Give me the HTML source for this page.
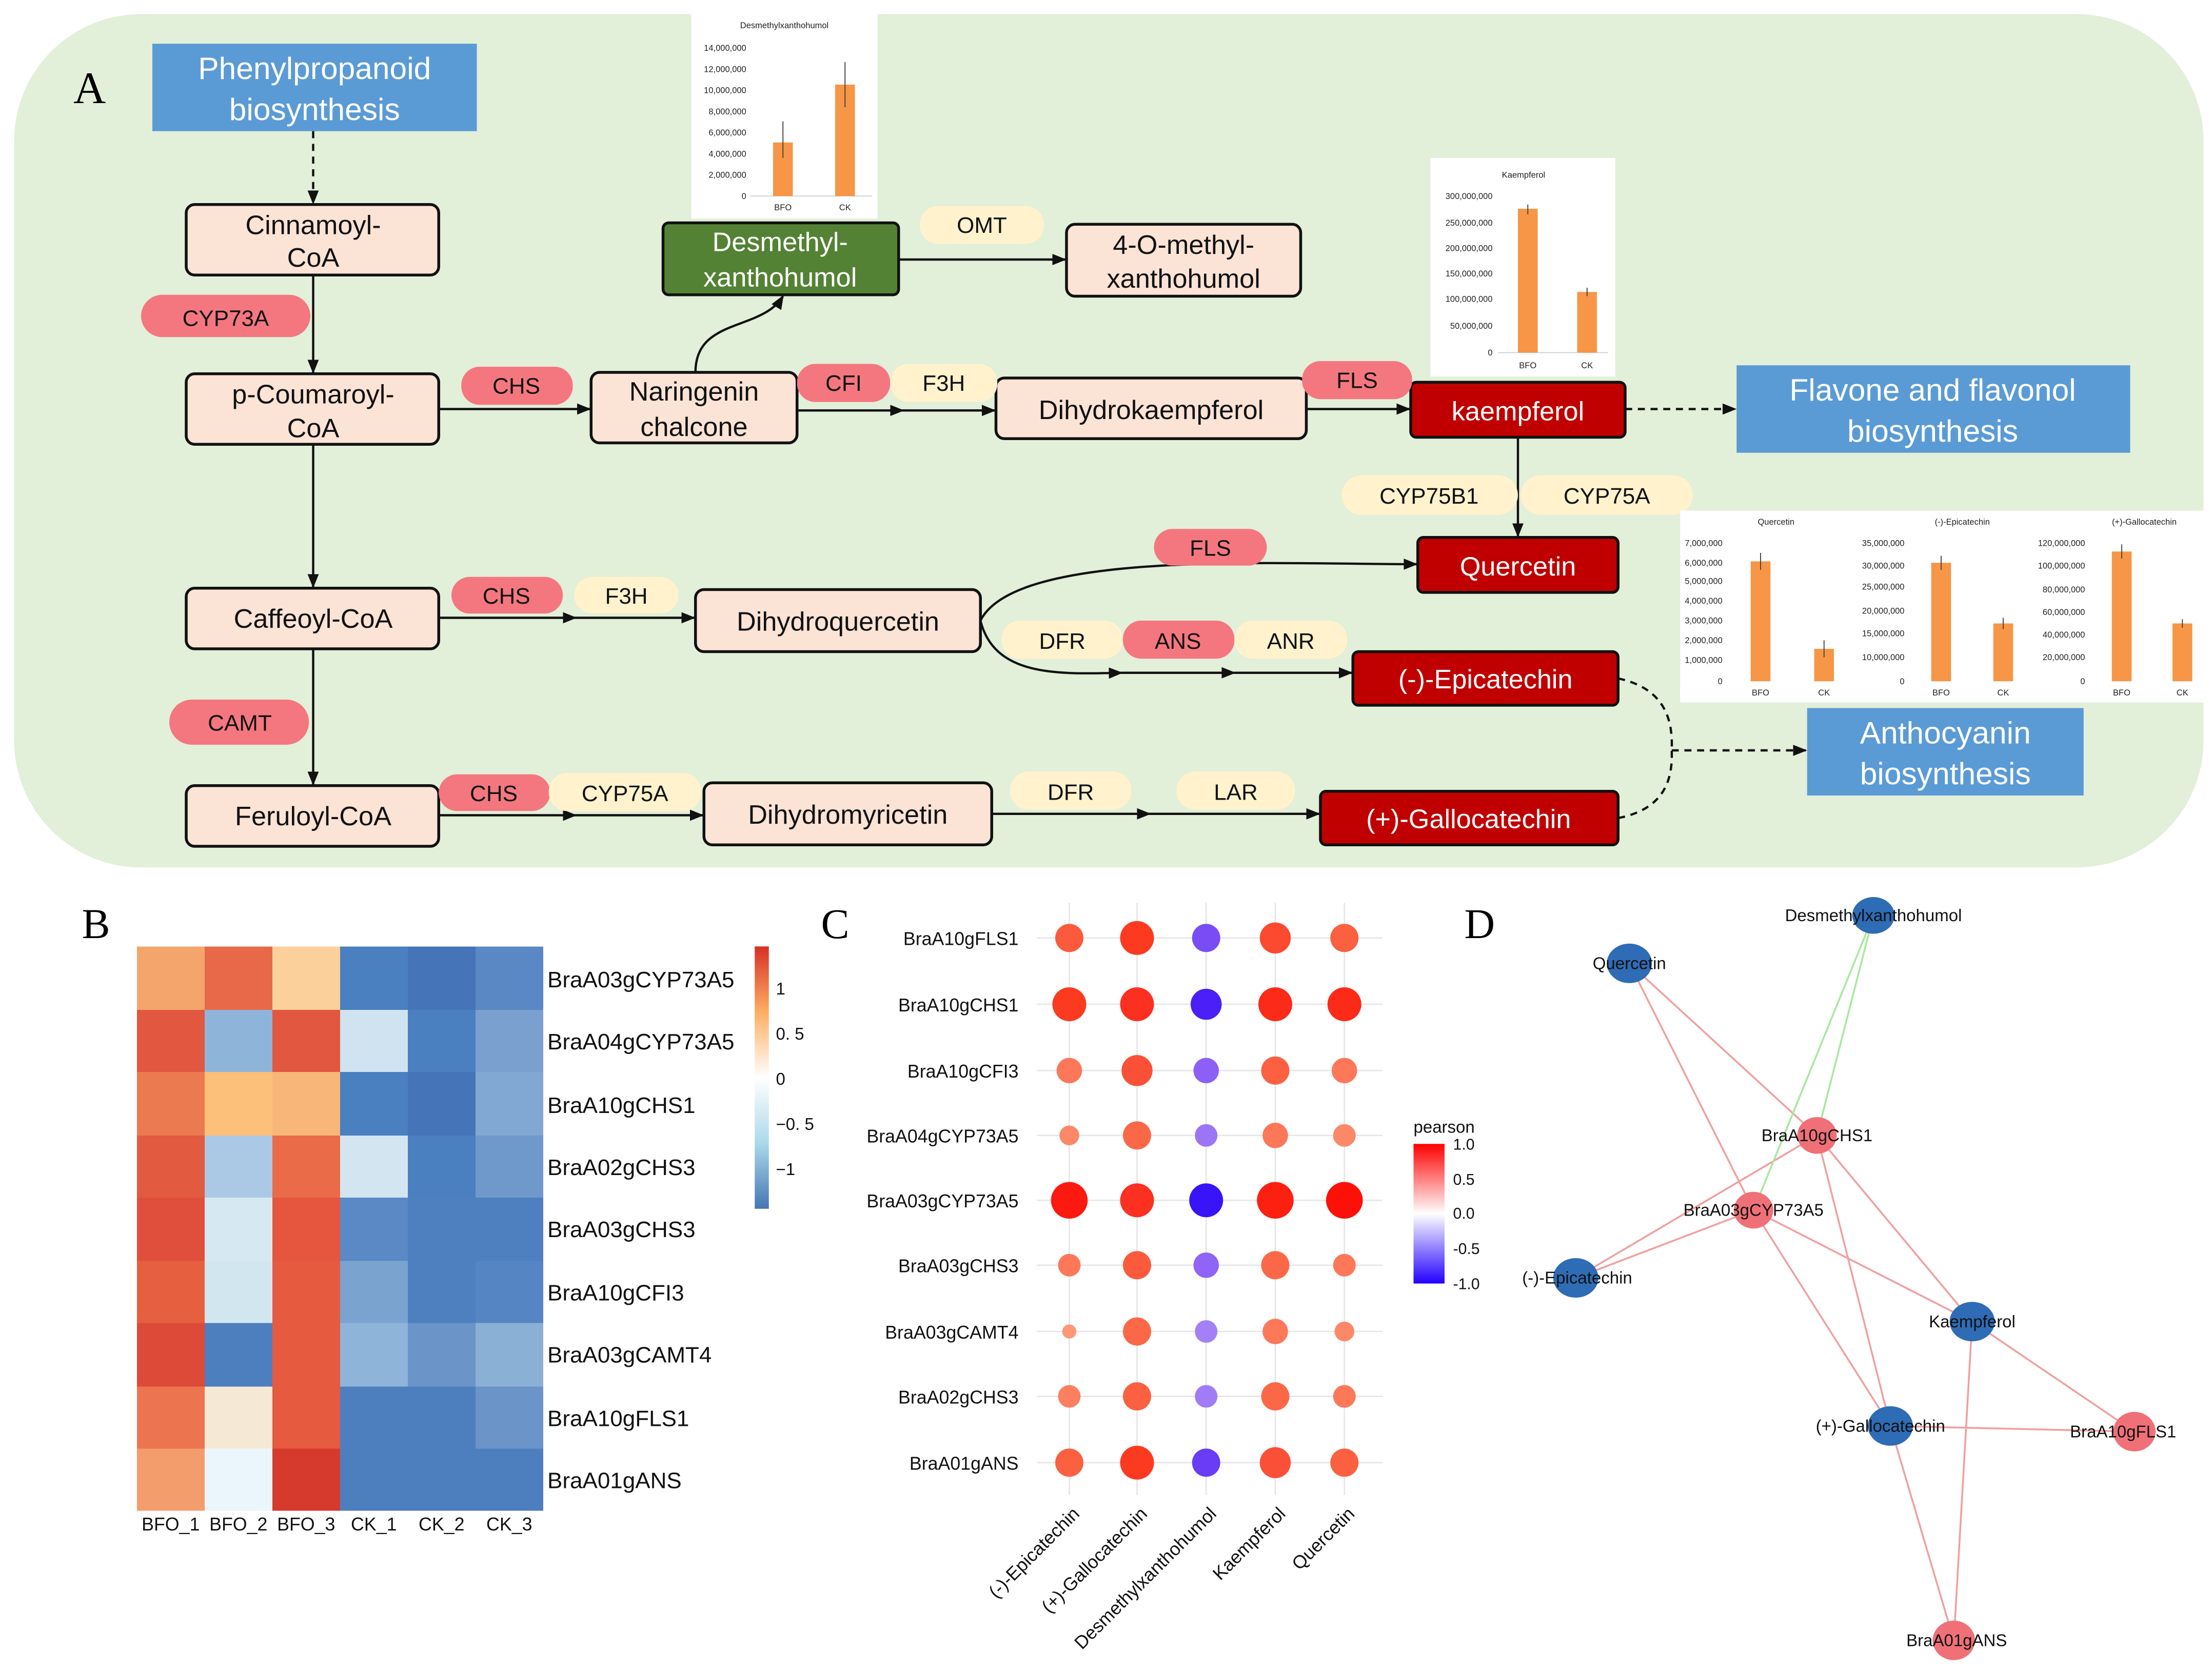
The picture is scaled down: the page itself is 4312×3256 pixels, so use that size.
<!DOCTYPE html>
<html><head><meta charset="utf-8"><style>
html,body{margin:0;padding:0;background:#fff}
svg{display:block}
text{font-family:"Liberation Sans",Arial,sans-serif}
.nd{fill:#fbe3d5;stroke:#111;stroke-width:2}
.nt{font-size:19px;text-anchor:middle;fill:#111}
.rn{fill:#c00000;stroke:#111;stroke-width:2}
.rt{font-size:19px;text-anchor:middle;fill:#fff}
.pr{fill:#f4777f}
.py{fill:#fff2cc}
.pt{font-size:16px;text-anchor:middle;fill:#111}
.ar{stroke:#111;stroke-width:1.6;fill:none;marker-end:url(#ah)}
.ds{stroke:#111;stroke-width:1.6;fill:none;stroke-dasharray:5,4;marker-end:url(#ah)}
.dn{stroke:#111;stroke-width:1.6;fill:none;stroke-dasharray:5,4}
.bl{fill:#5b9bd5}
.bt{font-size:22px;text-anchor:middle;fill:#fff}
.st{font-size:6px;fill:#222}
.hl{font-size:16px;fill:#111}
.cl{font-size:13px;fill:#111}
.e1{stroke:#f0a0a0;stroke-width:1.3}
.e2{stroke:#a8e8a0;stroke-width:1.3}
.nl{font-size:12px;fill:#111}
</style></head><body>
<svg width="4312" height="3256" viewBox="0 0 1568 1184" xmlns="http://www.w3.org/2000/svg">
<defs><marker id="ah" markerWidth="10" markerHeight="8" refX="9" refY="4" orient="auto" markerUnits="userSpaceOnUse"><path d="M0,0 L10,4 L0,8 z" fill="#111"/></marker>
<linearGradient id="hg" x1="0" y1="0" x2="0" y2="1"><stop offset="0" stop-color="#d73027"/><stop offset="0.25" stop-color="#fdae61"/><stop offset="0.5" stop-color="#ffffff"/><stop offset="0.75" stop-color="#abd9e9"/><stop offset="1" stop-color="#4575b4"/></linearGradient>
<linearGradient id="pg" x1="0" y1="0" x2="0" y2="1"><stop offset="0" stop-color="#ff0000"/><stop offset="0.5" stop-color="#ffffff"/><stop offset="1" stop-color="#2200ff"/></linearGradient>
</defs>
<rect x="0" y="0" width="1568" height="1184" fill="#fff"/>
<rect x="10" y="10" width="1552" height="605" rx="90" fill="#e2efd9"/>
<text x="52" y="73" font-size="32" style="font-family:'Liberation Serif',serif">A</text>

<rect class="bl" x="108" y="31" width="230" height="62"/><text class="bt" x="223" y="56">Phenylpropanoid</text><text class="bt" x="223" y="85">biosynthesis</text>
<rect class="bl" x="1231" y="259" width="279" height="62"/><text class="bt" x="1370" y="284">Flavone and flavonol</text><text class="bt" x="1370" y="313">biosynthesis</text>
<rect class="bl" x="1281" y="502" width="196" height="62"/><text class="bt" x="1379" y="527">Anthocyanin</text><text class="bt" x="1379" y="556">biosynthesis</text>

<path class="ds" d="M222,93 V144"/>
<path class="ar" d="M222,195 V264"/>
<path class="ar" d="M222,315 V416"/>
<path class="ar" d="M222,460 V556"/>
<path class="ar" d="M311,290 H418"/>
<path class="ar" d="M493,264 C493,225 540,235 555,210"/>
<path class="ar" d="M637,184 H755"/>
<path class="ar" d="M565,291 H640"/><path class="ar" d="M640,291 H705"/>
<path class="ar" d="M926,290 H999"/>
<path class="ds" d="M1152,290 H1230"/>
<path class="ar" d="M1076,310 V380"/>
<path class="ar" d="M311,438 H408"/><path class="ar" d="M408,438 H492"/>
<path class="ar" d="M695,440 C720,390 900,400 1004,400"/>
<path class="ar" d="M695,440 C705,480 750,478 795,477"/><path class="ar" d="M795,477 H875"/><path class="ar" d="M875,477 H958"/>
<path class="ar" d="M311,578 H408"/><path class="ar" d="M408,578 H498"/>
<path class="ar" d="M703,577 H815"/><path class="ar" d="M815,577 H935"/>
<path class="dn" d="M1147,481 C1180,488 1186,510 1185,532"/>
<path class="dn" d="M1147,580 C1178,574 1186,555 1185,532"/>
<path class="ds" d="M1185,532 H1280"/>

<rect class="nd" x="132" y="145" width="179" height="50" rx="6"/><text class="nt" x="222" y="166">Cinnamoyl-</text><text class="nt" x="222" y="189">CoA</text>
<rect class="nd" x="132" y="265" width="179" height="50" rx="6"/><text class="nt" x="222" y="286">p-Coumaroyl-</text><text class="nt" x="222" y="310">CoA</text>
<rect class="nd" x="132" y="417" width="179" height="43" rx="6"/><text class="nt" x="222" y="445">Caffeoyl-CoA</text>
<rect class="nd" x="132" y="557" width="179" height="43" rx="6"/><text class="nt" x="222" y="585">Feruloyl-CoA</text>
<rect class="nd" x="419" y="264" width="146" height="50" rx="6"/><text class="nt" x="492" y="284">Naringenin</text><text class="nt" x="492" y="309">chalcone</text>
<rect class="nd" x="706" y="268" width="220" height="43" rx="6"/><text class="nt" x="816" y="297">Dihydrokaempferol</text>
<rect class="nd" x="493" y="418" width="202" height="44" rx="6"/><text class="nt" x="594" y="447">Dihydroquercetin</text>
<rect class="nd" x="499" y="555" width="204" height="44" rx="6"/><text class="nt" x="601" y="584">Dihydromyricetin</text>
<rect class="nd" x="756" y="159" width="166" height="51" rx="6"/><text class="nt" x="839" y="180">4-O-methyl-</text><text class="nt" x="839" y="204">xanthohumol</text>
<rect x="470" y="158" width="167" height="51" rx="4" fill="#548235" stroke="#111" stroke-width="2"/><text class="rt" x="553" y="178">Desmethyl-</text><text class="rt" x="553" y="203">xanthohumol</text>
<rect class="rn" x="1000" y="271" width="152" height="39" rx="4"/><text class="rt" x="1076" y="298">kaempferol</text>
<rect class="rn" x="1005" y="381" width="142" height="39" rx="4"/><text class="rt" x="1076" y="408">Quercetin</text>
<rect class="rn" x="959" y="462" width="188" height="38" rx="4"/><text class="rt" x="1053" y="488">(-)-Epicatechin</text>
<rect class="rn" x="936" y="561" width="211" height="38" rx="4"/><text class="rt" x="1041" y="587">(+)-Gallocatechin</text>

<rect class="pr" x="100" y="209" width="120" height="30" rx="15"/><text class="pt" x="160" y="231" font-size="17">CYP73A</text>
<rect class="pr" x="327" y="260" width="79" height="27" rx="13"/><text class="pt" x="366" y="279">CHS</text>
<rect class="pr" x="565" y="258" width="66" height="27" rx="13"/><text class="pt" x="598" y="277">CFI</text>
<rect class="pr" x="923" y="256" width="78" height="27" rx="13"/><text class="pt" x="962" y="275">FLS</text>
<rect class="pr" x="818" y="375" width="80" height="26" rx="13"/><text class="pt" x="858" y="394">FLS</text>
<rect class="pr" x="320" y="409" width="79" height="26" rx="13"/><text class="pt" x="359" y="428">CHS</text>
<rect class="pr" x="796" y="440" width="79" height="27" rx="13"/><text class="pt" x="835" y="460">ANS</text>
<rect class="pr" x="120" y="496" width="99" height="32" rx="16"/><text class="pt" x="170" y="518" font-size="17">CAMT</text>
<rect class="pr" x="311" y="549" width="79" height="26" rx="13"/><text class="pt" x="350" y="568">CHS</text>
<rect class="py" x="652" y="146" width="88" height="27" rx="13"/><text class="pt" x="696" y="165">OMT</text>
<rect class="py" x="631" y="258" width="76" height="27" rx="13"/><text class="pt" x="669" y="277">F3H</text>
<rect class="py" x="951" y="337" width="125" height="28" rx="14"/><text class="pt" x="1013" y="357">CYP75B1</text>
<rect class="py" x="1078" y="337" width="122" height="28" rx="14"/><text class="pt" x="1139" y="357">CYP75A</text>
<rect class="py" x="407" y="409" width="74" height="26" rx="13"/><text class="pt" x="444" y="428">F3H</text>
<rect class="py" x="710" y="440" width="86" height="27" rx="13"/><text class="pt" x="753" y="460">DFR</text>
<rect class="py" x="875" y="440" width="80" height="27" rx="13"/><text class="pt" x="915" y="460">ANR</text>
<rect class="py" x="389" y="548" width="108" height="27" rx="13"/><text class="pt" x="443" y="568">CYP75A</text>
<rect class="py" x="716" y="547" width="86" height="27" rx="13"/><text class="pt" x="759" y="567">DFR</text>
<rect class="py" x="834" y="547" width="84" height="27" rx="13"/><text class="pt" x="876" y="567">LAR</text>

<g>
<rect x="490" y="10" width="132" height="145" fill="#fff"/>
<text class="st" x="556" y="20" text-anchor="middle" font-size="7">Desmethylxanthohumol</text>
<line x1="532" y1="139" x2="618" y2="139" stroke="#ccc" stroke-width="0.6"/>
<text class="st" x="529" y="36" text-anchor="end">14,000,000</text><text class="st" x="529" y="51" text-anchor="end">12,000,000</text><text class="st" x="529" y="66" text-anchor="end">10,000,000</text><text class="st" x="529" y="81" text-anchor="end">8,000,000</text><text class="st" x="529" y="96" text-anchor="end">6,000,000</text><text class="st" x="529" y="111" text-anchor="end">4,000,000</text><text class="st" x="529" y="126" text-anchor="end">2,000,000</text><text class="st" x="529" y="141" text-anchor="end">0</text>
<rect x="548" y="101" width="14" height="38" fill="#f79646"/><rect x="592" y="60" width="14" height="79" fill="#f79646"/>
<line x1="555" y1="86" x2="555" y2="112" stroke="#444" stroke-width="0.7"/><line x1="599" y1="44" x2="599" y2="76" stroke="#444" stroke-width="0.7"/>
<text class="st" x="555" y="149" text-anchor="middle">BFO</text><text class="st" x="599" y="149" text-anchor="middle">CK</text>
</g>
<g>
<rect x="1014" y="112" width="131" height="155" fill="#fff"/>
<text class="st" x="1080" y="126" text-anchor="middle" font-size="7">Kaempferol</text>
<line x1="1062" y1="250" x2="1140" y2="250" stroke="#ccc" stroke-width="0.6"/>
<text class="st" x="1058" y="141" text-anchor="end">300,000,000</text><text class="st" x="1058" y="160" text-anchor="end">250,000,000</text><text class="st" x="1058" y="178" text-anchor="end">200,000,000</text><text class="st" x="1058" y="196" text-anchor="end">150,000,000</text><text class="st" x="1058" y="214" text-anchor="end">100,000,000</text><text class="st" x="1058" y="233" text-anchor="end">50,000,000</text><text class="st" x="1058" y="252" text-anchor="end">0</text>
<rect x="1076" y="148" width="14" height="102" fill="#f79646"/><rect x="1118" y="207" width="14" height="43" fill="#f79646"/>
<line x1="1083" y1="145" x2="1083" y2="152" stroke="#444" stroke-width="0.7"/><line x1="1125" y1="204" x2="1125" y2="210" stroke="#444" stroke-width="0.7"/>
<text class="st" x="1083" y="261" text-anchor="middle">BFO</text><text class="st" x="1125" y="261" text-anchor="middle">CK</text>
</g>
<g>
<rect x="1191" y="362" width="371" height="136" fill="#fff"/>
<text class="st" x="1259" y="372" text-anchor="middle">Quercetin</text><text class="st" x="1391" y="372" text-anchor="middle">(-)-Epicatechin</text><text class="st" x="1520" y="372" text-anchor="middle">(+)-Gallocatechin</text>
<g text-anchor="end">
<text class="st" x="1221" y="387">7,000,000</text><text class="st" x="1221" y="401">6,000,000</text><text class="st" x="1221" y="414">5,000,000</text><text class="st" x="1221" y="428">4,000,000</text><text class="st" x="1221" y="442">3,000,000</text><text class="st" x="1221" y="456">2,000,000</text><text class="st" x="1221" y="470">1,000,000</text><text class="st" x="1221" y="485">0</text>
<text class="st" x="1350" y="387">35,000,000</text><text class="st" x="1350" y="403">30,000,000</text><text class="st" x="1350" y="418">25,000,000</text><text class="st" x="1350" y="435">20,000,000</text><text class="st" x="1350" y="451">15,000,000</text><text class="st" x="1350" y="468">10,000,000</text><text class="st" x="1350" y="485">0</text>
<text class="st" x="1478" y="387">120,000,000</text><text class="st" x="1478" y="403">100,000,000</text><text class="st" x="1478" y="420">80,000,000</text><text class="st" x="1478" y="436">60,000,000</text><text class="st" x="1478" y="452">40,000,000</text><text class="st" x="1478" y="468">20,000,000</text><text class="st" x="1478" y="485">0</text>
</g>
<rect x="1241" y="398" width="14" height="85" fill="#f79646"/><rect x="1286" y="460" width="14" height="23" fill="#f79646"/>
<rect x="1369" y="399" width="14" height="84" fill="#f79646"/><rect x="1413" y="442" width="14" height="41" fill="#f79646"/>
<rect x="1497" y="391" width="14" height="92" fill="#f79646"/><rect x="1540" y="442" width="14" height="41" fill="#f79646"/>
<g stroke="#444" stroke-width="0.7"><line x1="1248" y1="392" x2="1248" y2="404"/><line x1="1293" y1="454" x2="1293" y2="466"/><line x1="1376" y1="394" x2="1376" y2="404"/><line x1="1420" y1="438" x2="1420" y2="446"/><line x1="1504" y1="386" x2="1504" y2="396"/><line x1="1547" y1="439" x2="1547" y2="445"/></g>
<text class="st" x="1248" y="493" text-anchor="middle">BFO</text><text class="st" x="1293" y="493" text-anchor="middle">CK</text><text class="st" x="1376" y="493" text-anchor="middle">BFO</text><text class="st" x="1420" y="493" text-anchor="middle">CK</text><text class="st" x="1504" y="493" text-anchor="middle">BFO</text><text class="st" x="1547" y="493" text-anchor="middle">CK</text>
</g>

<text x="58" y="665" font-size="30" style="font-family:'Liberation Serif',serif">B</text>
<g shape-rendering="crispEdges">
<rect x="97" y="671" width="48" height="45" fill="#f4a56c"/><rect x="145" y="671" width="48" height="45" fill="#e8694a"/><rect x="193" y="671" width="48" height="45" fill="#fbd09a"/><rect x="241" y="671" width="48" height="45" fill="#4a7fc0"/><rect x="289" y="671" width="48" height="45" fill="#4574b8"/><rect x="337" y="671" width="48" height="45" fill="#5a88c4"/>
<rect x="97" y="716" width="48" height="44" fill="#e2573f"/><rect x="145" y="716" width="48" height="44" fill="#8fb4da"/><rect x="193" y="716" width="48" height="44" fill="#e2573f"/><rect x="241" y="716" width="48" height="44" fill="#cfe4f0"/><rect x="289" y="716" width="48" height="44" fill="#4a7fc0"/><rect x="337" y="716" width="48" height="44" fill="#7aa0cf"/>
<rect x="97" y="760" width="48" height="45" fill="#ec7a50"/><rect x="145" y="760" width="48" height="45" fill="#fcc07a"/><rect x="193" y="760" width="48" height="45" fill="#f8b679"/><rect x="241" y="760" width="48" height="45" fill="#4a7fc0"/><rect x="289" y="760" width="48" height="45" fill="#4574b8"/><rect x="337" y="760" width="48" height="45" fill="#80a8d2"/>
<rect x="97" y="805" width="48" height="44" fill="#e25a40"/><rect x="145" y="805" width="48" height="44" fill="#abc9e4"/><rect x="193" y="805" width="48" height="44" fill="#ea6b48"/><rect x="241" y="805" width="48" height="44" fill="#d2e5f0"/><rect x="289" y="805" width="48" height="44" fill="#4a7fc0"/><rect x="337" y="805" width="48" height="44" fill="#6f98cb"/>
<rect x="97" y="849" width="48" height="45" fill="#e04f3c"/><rect x="145" y="849" width="48" height="45" fill="#d6e9f3"/><rect x="193" y="849" width="48" height="45" fill="#e6553e"/><rect x="241" y="849" width="48" height="45" fill="#5a89c5"/><rect x="289" y="849" width="48" height="45" fill="#4e80bf"/><rect x="337" y="849" width="48" height="45" fill="#4e80bf"/>
<rect x="97" y="894" width="48" height="44" fill="#e6603f"/><rect x="145" y="894" width="48" height="44" fill="#d2e6f0"/><rect x="193" y="894" width="48" height="44" fill="#e65a40"/><rect x="241" y="894" width="48" height="44" fill="#7aa3cf"/><rect x="289" y="894" width="48" height="44" fill="#4e7fbe"/><rect x="337" y="894" width="48" height="44" fill="#5585c2"/>
<rect x="97" y="938" width="48" height="45" fill="#dd4a38"/><rect x="145" y="938" width="48" height="45" fill="#4d7fbe"/><rect x="193" y="938" width="48" height="45" fill="#e65a40"/><rect x="241" y="938" width="48" height="45" fill="#8fb4da"/><rect x="289" y="938" width="48" height="45" fill="#6b94c8"/><rect x="337" y="938" width="48" height="45" fill="#8ab0d6"/>
<rect x="97" y="983" width="48" height="44" fill="#ec7550"/><rect x="145" y="983" width="48" height="44" fill="#f5e9d6"/><rect x="193" y="983" width="48" height="44" fill="#e65a40"/><rect x="241" y="983" width="48" height="44" fill="#4d7fbe"/><rect x="289" y="983" width="48" height="44" fill="#4d7fbe"/><rect x="337" y="983" width="48" height="44" fill="#6b94c8"/>
<rect x="97" y="1027" width="48" height="44" fill="#f49d6c"/><rect x="145" y="1027" width="48" height="44" fill="#eaf6fb"/><rect x="193" y="1027" width="48" height="44" fill="#d63a2c"/><rect x="241" y="1027" width="48" height="44" fill="#4d7fbe"/><rect x="289" y="1027" width="48" height="44" fill="#4d7fbe"/><rect x="337" y="1027" width="48" height="44" fill="#4d7fbe"/>
</g>
<g class="hl">
<text x="388" y="700">BraA03gCYP73A5</text><text x="388" y="744">BraA04gCYP73A5</text><text x="388" y="789">BraA10gCHS1</text><text x="388" y="833">BraA02gCHS3</text><text x="388" y="877">BraA03gCHS3</text><text x="388" y="922">BraA10gCFI3</text><text x="388" y="966">BraA03gCAMT4</text><text x="388" y="1011">BraA10gFLS1</text><text x="388" y="1055">BraA01gANS</text>
</g>
<g font-size="13" text-anchor="middle" fill="#111">
<text x="121" y="1085">BFO_1</text><text x="169" y="1085">BFO_2</text><text x="217" y="1085">BFO_3</text><text x="265" y="1085">CK_1</text><text x="313" y="1085">CK_2</text><text x="361" y="1085">CK_3</text>
</g>
<rect x="535" y="671" width="10" height="186" fill="url(#hg)"/>
<g font-size="12" fill="#111" style="font-family:'Liberation Serif',serif"><text x="550" y="705">1</text><text x="550" y="737">0. 5</text><text x="550" y="769">0</text><text x="550" y="801">−0. 5</text><text x="550" y="833">−1</text></g>

<text x="582" y="665" font-size="30" style="font-family:'Liberation Serif',serif">C</text>
<g stroke="#e6e6e6" stroke-width="1">
<line x1="758" y1="640" x2="758" y2="1060"/><line x1="806" y1="640" x2="806" y2="1060"/><line x1="855" y1="640" x2="855" y2="1060"/><line x1="904" y1="640" x2="904" y2="1060"/><line x1="953" y1="640" x2="953" y2="1060"/>
<line x1="735" y1="665" x2="980" y2="665"/><line x1="735" y1="712" x2="980" y2="712"/><line x1="735" y1="759" x2="980" y2="759"/><line x1="735" y1="805" x2="980" y2="805"/><line x1="735" y1="851" x2="980" y2="851"/><line x1="735" y1="897" x2="980" y2="897"/><line x1="735" y1="944" x2="980" y2="944"/><line x1="735" y1="990" x2="980" y2="990"/><line x1="735" y1="1037" x2="980" y2="1037"/>
</g>
<g class="cl" text-anchor="end">
<text x="722" y="670">BraA10gFLS1</text><text x="722" y="717">BraA10gCHS1</text><text x="722" y="764">BraA10gCFI3</text><text x="722" y="810">BraA04gCYP73A5</text><text x="722" y="856">BraA03gCYP73A5</text><text x="722" y="902">BraA03gCHS3</text><text x="722" y="949">BraA03gCAMT4</text><text x="722" y="995">BraA02gCHS3</text><text x="722" y="1042">BraA01gANS</text>
</g>
<g>
<circle cx="758" cy="665" r="10" fill="#fb5a3c"/><circle cx="806" cy="665" r="12" fill="#fc3a20"/><circle cx="855" cy="665" r="10" fill="#7a4cf6"/><circle cx="904" cy="665" r="11" fill="#fb4a30"/><circle cx="953" cy="665" r="10" fill="#fb6040"/>
<circle cx="758" cy="712" r="12" fill="#fc3a20"/><circle cx="806" cy="712" r="12" fill="#fc3020"/><circle cx="855" cy="712" r="11" fill="#4a1ff8"/><circle cx="904" cy="712" r="12" fill="#fc2a18"/><circle cx="953" cy="712" r="12" fill="#fc2a18"/>
<circle cx="758" cy="759" r="9" fill="#fc7858"/><circle cx="806" cy="759" r="11" fill="#fb5038"/><circle cx="855" cy="759" r="9" fill="#8c60f6"/><circle cx="904" cy="759" r="10" fill="#fb6040"/><circle cx="953" cy="759" r="9" fill="#fc7858"/>
<circle cx="758" cy="805" r="7" fill="#fc8868"/><circle cx="806" cy="805" r="10" fill="#fb6848"/><circle cx="855" cy="805" r="8" fill="#9c74f6"/><circle cx="904" cy="805" r="9" fill="#fc7858"/><circle cx="953" cy="805" r="8" fill="#fc8868"/>
<circle cx="758" cy="851" r="13" fill="#fc1a10"/><circle cx="806" cy="851" r="12" fill="#fc3020"/><circle cx="855" cy="851" r="12" fill="#3a14f8"/><circle cx="904" cy="851" r="13" fill="#fc2010"/><circle cx="953" cy="851" r="13" fill="#fc1008"/>
<circle cx="758" cy="897" r="8" fill="#fc7858"/><circle cx="806" cy="897" r="10" fill="#fb5a3c"/><circle cx="855" cy="897" r="9" fill="#9064f6"/><circle cx="904" cy="897" r="10" fill="#fb6848"/><circle cx="953" cy="897" r="8" fill="#fc7858"/>
<circle cx="758" cy="944" r="5" fill="#fc9878"/><circle cx="806" cy="944" r="10" fill="#fb6848"/><circle cx="855" cy="944" r="8" fill="#a480f6"/><circle cx="904" cy="944" r="9" fill="#fc7858"/><circle cx="953" cy="944" r="7" fill="#fc8868"/>
<circle cx="758" cy="990" r="8" fill="#fc8060"/><circle cx="806" cy="990" r="10" fill="#fb6040"/><circle cx="855" cy="990" r="8" fill="#a07cf6"/><circle cx="904" cy="990" r="10" fill="#fb6848"/><circle cx="953" cy="990" r="8" fill="#fc7858"/>
<circle cx="758" cy="1037" r="10" fill="#fb6040"/><circle cx="806" cy="1037" r="12" fill="#fc3a20"/><circle cx="855" cy="1037" r="10" fill="#6a3cf6"/><circle cx="904" cy="1037" r="11" fill="#fb5038"/><circle cx="953" cy="1037" r="10" fill="#fb6040"/>
</g>
<g class="cl" text-anchor="end">
<text transform="translate(766,1074) rotate(-45)">(-)-Epicatechin</text><text transform="translate(814,1074) rotate(-45)">(+)-Gallocatechin</text><text transform="translate(863,1074) rotate(-45)">Desmethylxanthohumol</text><text transform="translate(912,1074) rotate(-45)">Kaempferol</text><text transform="translate(961,1074) rotate(-45)">Quercetin</text>
</g>
<text x="1002" y="803" font-size="12" fill="#111">pearson</text>
<rect x="1002" y="811" width="22" height="99" fill="url(#pg)"/>
<g font-size="11" fill="#111"><text x="1030" y="815">1.0</text><text x="1030" y="840">0.5</text><text x="1030" y="864">0.0</text><text x="1030" y="889">-0.5</text><text x="1030" y="914">-1.0</text></g>

<text x="1038" y="665" font-size="30" style="font-family:'Liberation Serif',serif">D</text>
<g>
<line class="e1" x1="1155" y1="683" x2="1288" y2="805"/><line class="e1" x1="1155" y1="683" x2="1243" y2="858"/>
<line class="e1" x1="1117" y1="906" x2="1288" y2="805"/><line class="e1" x1="1117" y1="906" x2="1243" y2="858"/>
<line class="e1" x1="1398" y1="937" x2="1288" y2="805"/><line class="e1" x1="1398" y1="937" x2="1243" y2="858"/>
<line class="e1" x1="1340" y1="1011" x2="1288" y2="805"/><line class="e1" x1="1340" y1="1011" x2="1243" y2="858"/>
<line class="e1" x1="1340" y1="1011" x2="1513" y2="1015"/><line class="e1" x1="1398" y1="937" x2="1513" y2="1015"/>
<line class="e1" x1="1398" y1="937" x2="1385" y2="1163"/><line class="e1" x1="1340" y1="1011" x2="1385" y2="1163"/>
<line class="e2" x1="1328" y1="649" x2="1288" y2="805"/><line class="e2" x1="1328" y1="649" x2="1243" y2="858"/>
</g>
<g fill="#2e6cb5">
<ellipse cx="1328" cy="649" rx="15" ry="13"/><ellipse cx="1155" cy="683" rx="16" ry="14"/><ellipse cx="1117" cy="906" rx="16" ry="14"/><ellipse cx="1398" cy="937" rx="16" ry="14"/><ellipse cx="1340" cy="1011" rx="16" ry="14"/>
</g>
<g fill="#f07078">
<ellipse cx="1288" cy="805" rx="14" ry="13"/><ellipse cx="1243" cy="858" rx="14" ry="13"/><ellipse cx="1513" cy="1015" rx="15" ry="14"/><ellipse cx="1385" cy="1163" rx="15" ry="14"/>
</g>
<g class="nl" text-anchor="middle">
<text x="1328" y="653">Desmethylxanthohumol</text><text x="1155" y="687">Quercetin</text><text x="1288" y="809">BraA10gCHS1</text><text x="1243" y="862">BraA03gCYP73A5</text><text x="1118" y="910">(-)-Epicatechin</text><text x="1398" y="941">Kaempferol</text><text x="1333" y="1015">(+)-Gallocatechin</text><text x="1505" y="1019">BraA10gFLS1</text><text x="1387" y="1167">BraA01gANS</text>
</g>
</svg>
</body></html>
